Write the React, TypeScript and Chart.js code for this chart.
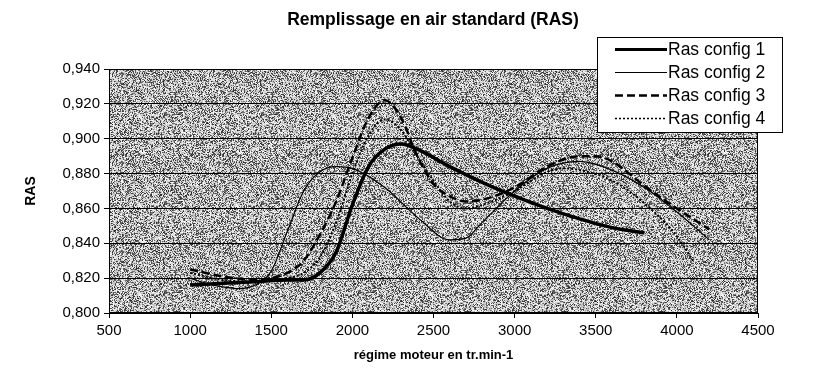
import { useEffect, useRef } from 'react';
import { Chart, registerables } from 'chart.js';

Chart.register(...registerables);

const chartTitle = 'Remplissage en air standard (RAS)';
const xAxisTitle = 'régime moteur en tr.min-1';
const yAxisTitle = 'RAS';
const seriesNames = ['Ras config 1', 'Ras config 2', 'Ras config 3', 'Ras config 4'];

const rpm1 = [1000, 1200, 1400, 1600, 1700, 1800, 1900, 2000, 2100, 2200, 2300, 2400, 2600, 2800, 3000, 3200, 3400, 3600, 3800];
const ras1 = [0.816, 0.817, 0.818, 0.819, 0.819, 0.823, 0.835, 0.862, 0.884, 0.894, 0.897, 0.894, 0.884, 0.875, 0.867, 0.86, 0.854, 0.849, 0.846];

const rpm2 = [1000, 1100, 1200, 1300, 1400, 1500, 1600, 1700, 1800, 1900, 2000, 2200, 2400, 2600, 2700, 2800, 3000, 3200, 3400, 3600, 3800, 4000, 4200];
const ras2 = [0.82, 0.817, 0.815, 0.814, 0.816, 0.824, 0.847, 0.87, 0.881, 0.884, 0.883, 0.872, 0.855, 0.842, 0.843, 0.852, 0.87, 0.883, 0.887, 0.882, 0.872, 0.858, 0.842];

const rpm3 = [1000, 1200, 1400, 1500, 1600, 1700, 1800, 1900, 2000, 2100, 2200, 2300, 2400, 2500, 2600, 2700, 2800, 3000, 3200, 3400, 3500, 3600, 3800, 4000, 4200];
const ras3 = [0.825, 0.821, 0.819, 0.82, 0.823, 0.83, 0.845, 0.864, 0.889, 0.912, 0.922, 0.912, 0.89, 0.874, 0.867, 0.864, 0.865, 0.872, 0.884, 0.89, 0.89, 0.887, 0.873, 0.86, 0.848];

const rpm4 = [1000, 1200, 1400, 1600, 1700, 1800, 1900, 2000, 2100, 2200, 2300, 2400, 2500, 2600, 2700, 2800, 3000, 3200, 3300, 3400, 3600, 3800, 4000, 4100];
const ras4 = [0.823, 0.819, 0.818, 0.82, 0.823, 0.832, 0.852, 0.88, 0.902, 0.911, 0.905, 0.89, 0.876, 0.864, 0.86, 0.862, 0.87, 0.881, 0.883, 0.882, 0.876, 0.863, 0.844, 0.83];

const xTicks = [500, 1000, 1500, 2000, 2500, 3000, 3500, 4000, 4500];
const yTicks = [0.8, 0.82, 0.84, 0.86, 0.88, 0.9, 0.92, 0.94];

const FONT = '"Liberation Sans", Arial, sans-serif';

const lineStyles = [
  { width: 3.5, dash: [] as number[], legendWidth: 3 },
  { width: 1.2, dash: [] as number[], legendWidth: 1 },
  { width: 2.5, dash: [8, 4], legendWidth: 2.5 },
  { width: 2, dash: [2, 2], legendWidth: 1.5 },
];

function makeTexture(): CanvasPattern | string {
  const w = 97;
  const h = 89;
  const c = document.createElement('canvas');
  c.width = w;
  c.height = h;
  const g = c.getContext('2d');
  if (!g) return '#aaa';
  const img = g.createImageData(w, h);
  let s = 20240611;
  const next = () => {
    s = (Math.imul(s, 1664525) + 1013904223) >>> 0;
    return s / 4294967296;
  };
  for (let i = 0; i < w * h; i++) {
    const a = next();
    const b = next();
    const v = a < 0.38 ? 40 + b * 90 : 180 + b * 75;
    img.data[i * 4] = v;
    img.data[i * 4 + 1] = v;
    img.data[i * 4 + 2] = v;
    img.data[i * 4 + 3] = 255;
  }
  g.putImageData(img, 0, 0);
  return g.createPattern(c, 'repeat') || '#aaa';
}

export default function App() {
  const ref = useRef<HTMLCanvasElement | null>(null);

  useEffect(() => {
    const canvas = ref.current;
    if (!canvas) return;
    const texture = makeTexture();

    const rpms = [rpm1, rpm2, rpm3, rpm4];
    const vals = [ras1, ras2, ras3, ras4];

    const datasets = seriesNames.map((name, k) => ({
      label: name,
      data: rpms[k].map((x, i) => ({ x, y: vals[k][i] })),
      borderColor: '#000',
      backgroundColor: '#000',
      borderWidth: lineStyles[k].width,
      borderDash: lineStyles[k].dash,
      pointRadius: 0,
      fill: false,
      cubicInterpolationMode: 'monotone' as const,
      tension: 0.4,
    }));

    const decor = {
      id: 'decor',
      beforeDraw(chart: any) {
        const { ctx, chartArea: a } = chart;
        ctx.save();
        ctx.fillStyle = '#fff';
        ctx.fillRect(0, 0, chart.width, chart.height);
        ctx.fillStyle = texture;
        ctx.fillRect(a.left, a.top, a.right - a.left, a.bottom - a.top);
        ctx.restore();
      },
      beforeDatasetsDraw(chart: any) {
        const { ctx, chartArea: a } = chart;
        ctx.save();
        ctx.strokeStyle = '#000';
        ctx.lineWidth = 1;
        ctx.strokeRect(a.left + 0.5, a.top + 0.5, a.right - a.left - 1, a.bottom - a.top - 1);
        ctx.restore();
      },
      afterDraw(chart: any) {
        const { ctx } = chart;
        ctx.save();
        ctx.fillStyle = '#000';
        ctx.font = `bold 17.5px ${FONT}`;
        ctx.textAlign = 'center';
        ctx.textBaseline = 'middle';
        ctx.fillText(chartTitle, 433, 20);
        const bx = 597, by = 37, bw = 186, bh = 96;
        ctx.fillStyle = '#fff';
        ctx.fillRect(bx, by, bw, bh);
        ctx.strokeStyle = '#000';
        ctx.lineWidth = 1;
        ctx.strokeRect(bx + 0.5, by + 0.5, bw - 1, bh - 1);
        ctx.font = `17.5px ${FONT}`;
        ctx.textAlign = 'left';
        const rows = [49, 72, 95, 118];
        seriesNames.forEach((name, k) => {
          const y = rows[k];
          ctx.beginPath();
          ctx.setLineDash(lineStyles[k].dash);
          ctx.lineWidth = lineStyles[k].legendWidth;
          ctx.strokeStyle = '#000';
          ctx.moveTo(615, y + 0.5);
          ctx.lineTo(667, y + 0.5);
          ctx.stroke();
          ctx.setLineDash([]);
          ctx.fillStyle = '#000';
          ctx.fillText(name, 668, y + 1);
        });
        ctx.restore();
      },
    };

    const chart = new Chart(canvas, {
      type: 'line',
      data: { datasets },
      options: {
        responsive: false,
        animation: false,
        devicePixelRatio: 1,
        layout: { padding: { top: 69, right: 72, bottom: 0, left: 0 } },
        plugins: {
          legend: { display: false },
          title: { display: false },
          tooltip: { enabled: false },
        },
        scales: {
          x: {
            type: 'linear',
            min: 500,
            max: 4500,
            afterBuildTicks: (scale: any) => {
              scale.ticks = xTicks.map((v) => ({ value: v }));
            },
            afterFit: (scale: any) => {
              scale.height = 77;
            },
            grid: {
              drawOnChartArea: false,
              drawTicks: true,
              tickLength: 5,
              color: '#000',
            },
            border: { display: true, color: '#000' },
            ticks: {
              color: '#000',
              font: { family: FONT, size: 15 },
              padding: 4,
              maxRotation: 0,
              autoSkip: false,
              callback: (v: any) => String(v),
            },
            title: {
              display: true,
              text: xAxisTitle,
              color: '#000',
              font: { family: FONT, size: 13, weight: 'bold' },
              padding: { top: 0, bottom: 27 },
            },
          },
          y: {
            type: 'linear',
            min: 0.8,
            max: 0.94,
            afterBuildTicks: (scale: any) => {
              scale.ticks = yTicks.map((v) => ({ value: v }));
            },
            afterFit: (scale: any) => {
              scale.width = 109;
            },
            grid: {
              drawOnChartArea: true,
              drawTicks: true,
              tickLength: 5,
              color: '#000',
            },
            border: { display: true, color: '#000' },
            ticks: {
              color: '#000',
              font: { family: FONT, size: 15 },
              padding: 4,
              autoSkip: false,
              callback: (v: any) => Number(v).toFixed(3).replace('.', ','),
            },
            title: {
              display: true,
              text: yAxisTitle,
              color: '#000',
              font: { family: FONT, size: 14, weight: 'bold' },
              padding: { top: 23, bottom: 0 },
            },
          },
        },
      },
      plugins: [decor],
    });

    return () => chart.destroy();
  }, []);

  return (
    <div style={{ position: 'absolute', left: 0, top: 0, width: 830, height: 390 }}>
      <canvas ref={ref} width={830} height={390} style={{ display: 'block', width: 830, height: 390 }} />
    </div>
  );
}
